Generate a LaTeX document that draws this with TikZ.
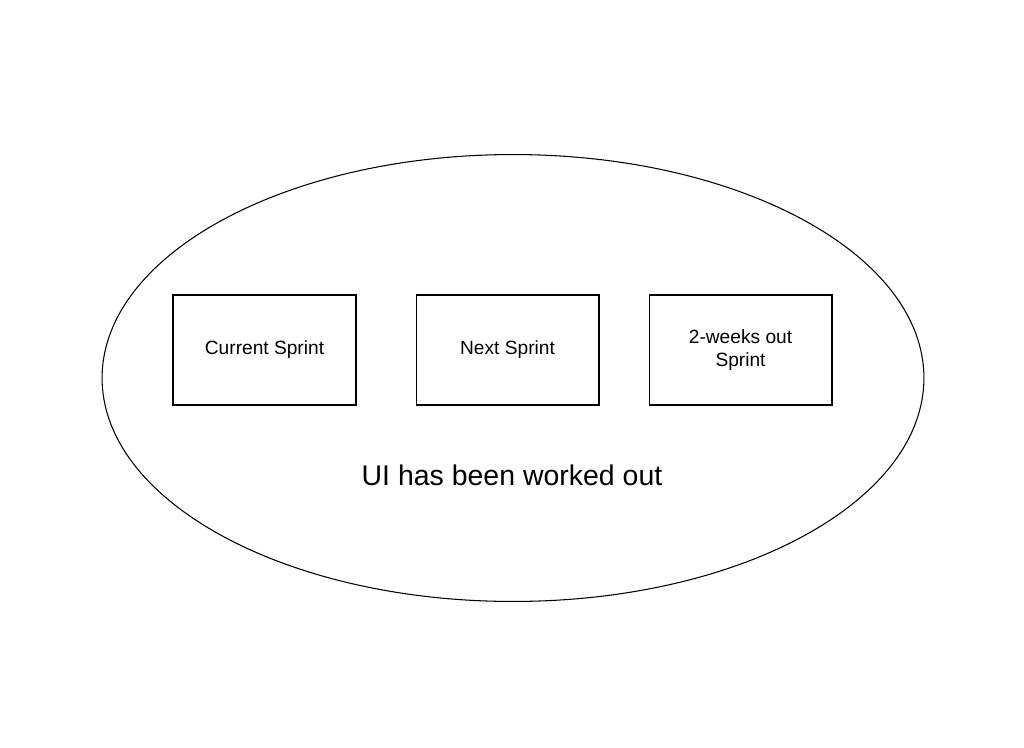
\documentclass[tikz,border=0pt]{standalone}
\usepackage{fontspec}
\setmainfont{Liberation Sans}
\usetikzlibrary{shapes.geometric, positioning}

\begin{document}
\begin{tikzpicture}[
  x=0.02cm, y=-0.02cm,
  node distance=1.2cm,
  sprint/.style={rectangle, draw, line width=0.6pt, minimum width=3.66cm, minimum height=2.2cm, font=\fontsize{10.9}{13}\selectfont, align=center, text depth=0.5ex},
  scopeoval/.style={ellipse, draw, line width=0.6pt, minimum width=16.44cm, minimum height=8.94cm, inner sep=0pt}
]
  \useasboundingbox (0,0) rectangle (1024,747);

  % Outer ellipse
  \node[scopeoval] (oval) at (513,378) {};

  % Sprint boxes
  \node[sprint] (current) at (264.5,350) {Current Sprint};
  \node[sprint, right=1.18cm of current] (next) {Next Sprint};
  \node[sprint, right=0.98cm of next] (twoweeks) {2-weeks out\\Sprint};

  % Label
  \node[font=\fontsize{16.2}{19}\selectfont] (ui) at (512,475) {UI has been worked out};
\end{tikzpicture}
\end{document}
